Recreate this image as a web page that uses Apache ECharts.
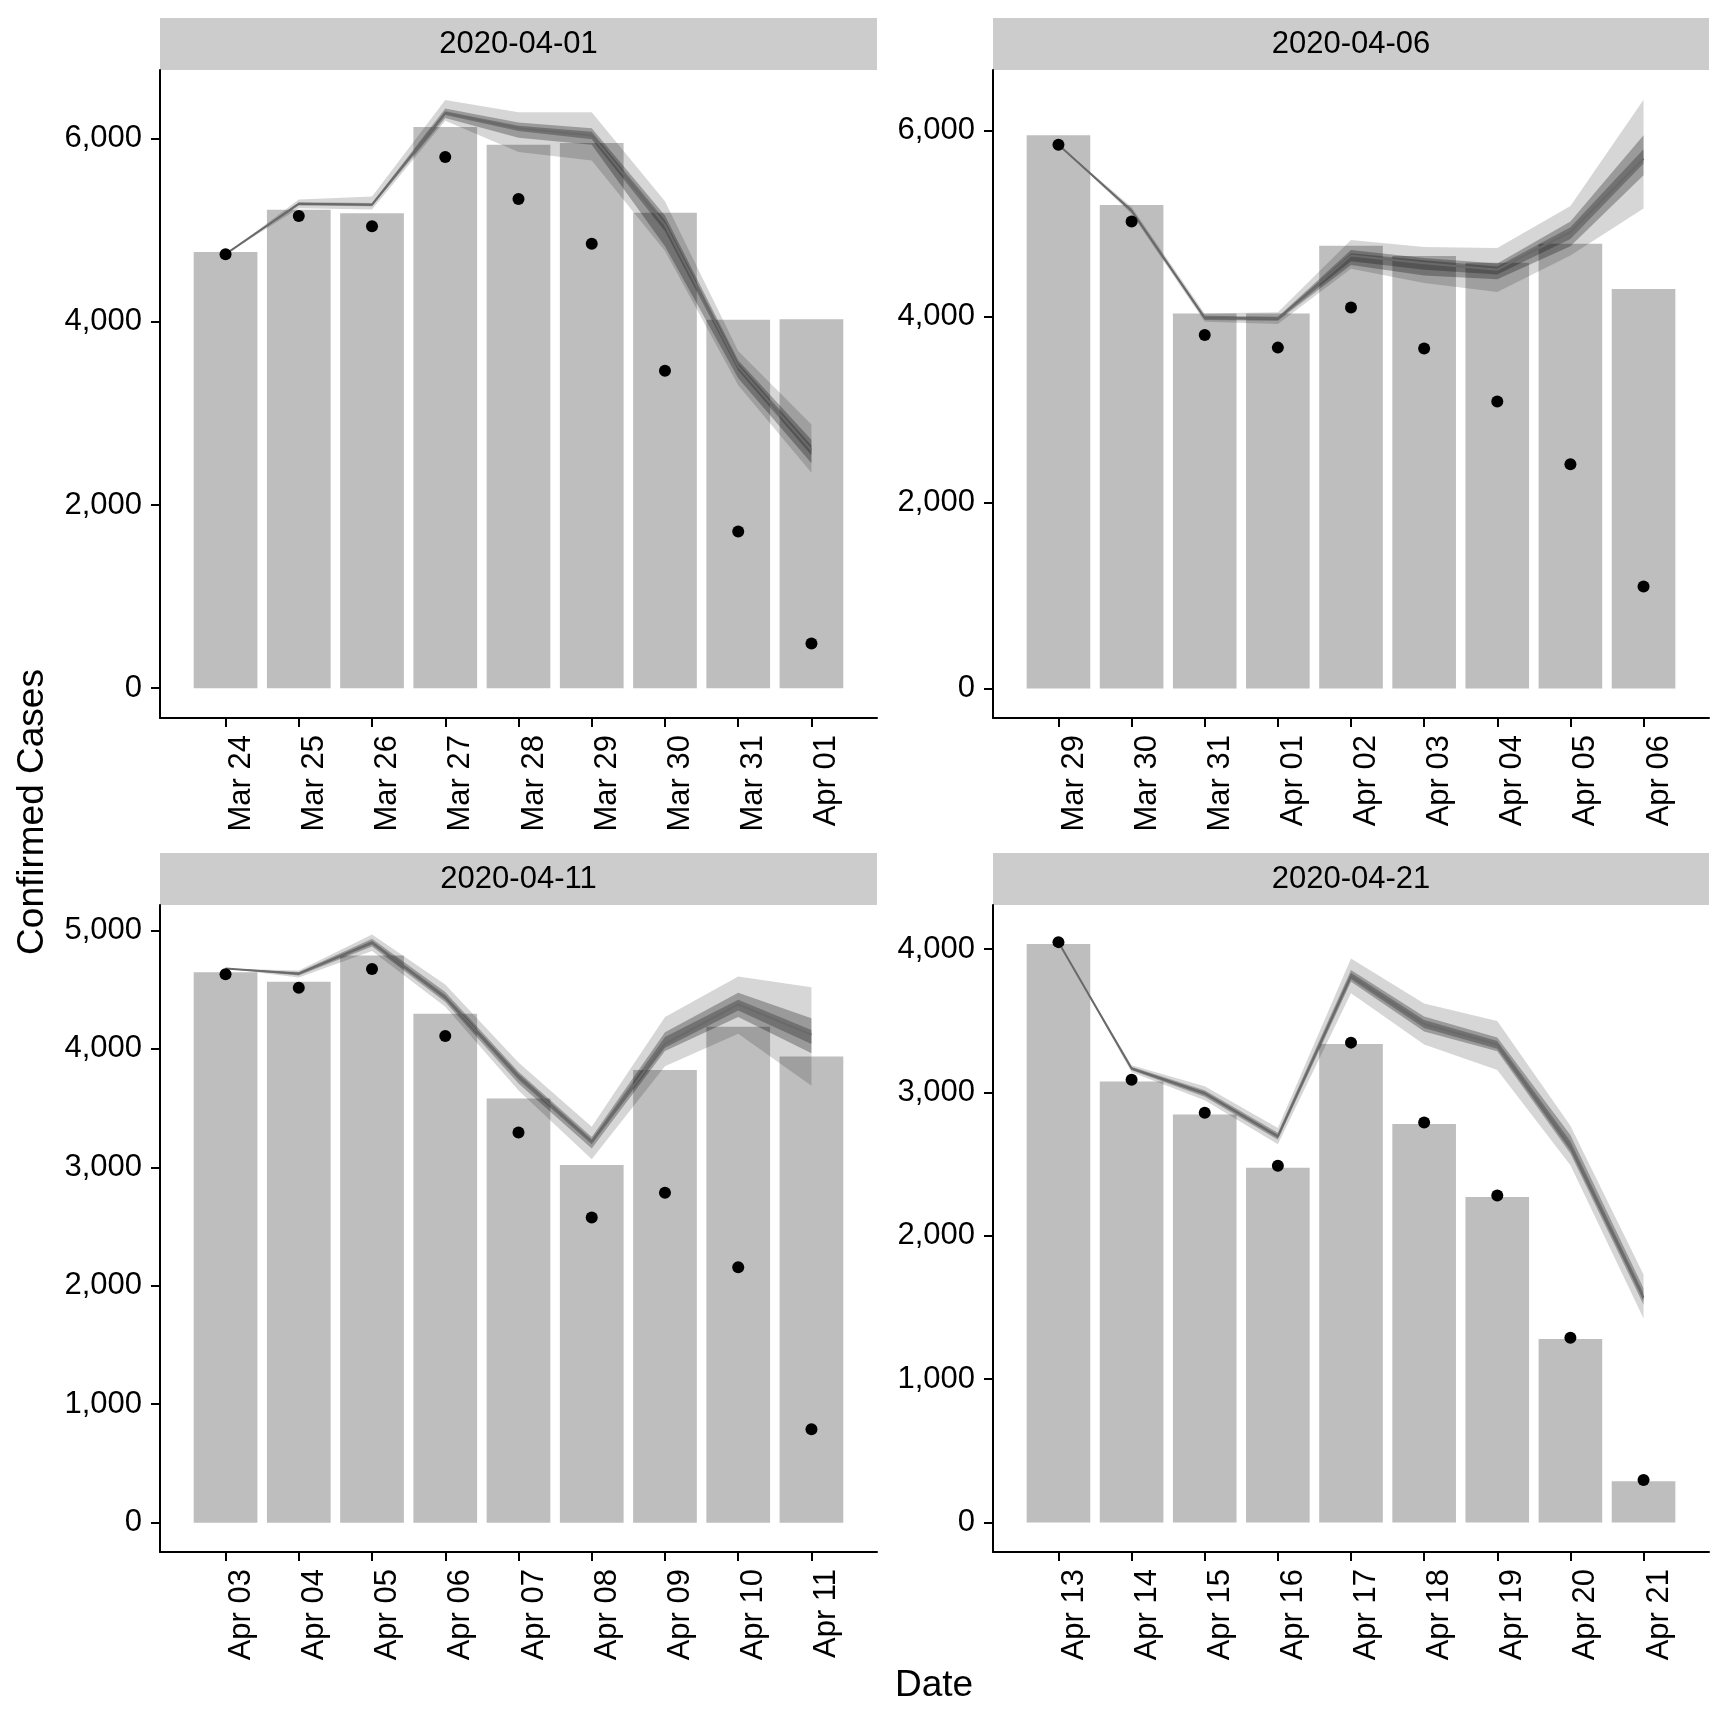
<!DOCTYPE html>
<html><head><meta charset="utf-8">
<script src="https://cdn.jsdelivr.net/npm/echarts@6/dist/echarts.min.js"></script>
<style>html,body{margin:0;padding:0;background:#fff}#c{width:1728px;height:1728px}</style>
</head><body><div id="c"></div>
<script>
// ---------------- data ----------------
const panelTitles = ['2020-04-01', '2020-04-06', '2020-04-11', '2020-04-21'];

const labels1 = ['Mar 24','Mar 25','Mar 26','Mar 27','Mar 28','Mar 29','Mar 30','Mar 31','Apr 01'];
const bars1   = [4764, 5223, 5187, 6129, 5934, 5954, 5192, 4023, 4028];
const points1 = [4739, 5156, 5043, 5800, 5341, 4852, 3466, 1710, 489];
const median1 = [4739, 5290, 5280, 6279, 6114, 6036, 5058, 3513, 2600];
const outerLo1 = [4739, 5240, 5228, 6195, 5856, 5763, 4775, 3307, 2354];
const outerHi1 = [4739, 5335, 5370, 6423, 6289, 6289, 5316, 3683, 2879];
const midLo1   = [4739, 5270, 5262, 6227, 6011, 5934, 4826, 3384, 2457];
const midHi1   = [4739, 5305, 5298, 6330, 6176, 6114, 5161, 3580, 2714];
const innLo1   = [4739, 5282, 5273, 6260, 6085, 5995, 4990, 3470, 2545];
const innHi1   = [4739, 5296, 5287, 6300, 6140, 6075, 5110, 3550, 2650];

const labels2 = ['Mar 29','Mar 30','Mar 31','Apr 01','Apr 02','Apr 03','Apr 04','Apr 05','Apr 06'];
const bars2   = [5954, 5202, 4034, 4034, 4765, 4653, 4580, 4785, 4298];
const points2 = [5852, 5024, 3805, 3668, 4100, 3658, 3089, 2413, 1097];
const median2 = [5852, 5141, 3988, 3978, 4659, 4577, 4506, 4912, 5700];
const outerLo2 = [5852, 5105, 3947, 3922, 4516, 4364, 4267, 4658, 5166];
const outerHi2 = [5852, 5181, 4034, 4049, 4826, 4750, 4740, 5192, 6335];
const midLo2   = [5852, 5125, 3965, 3958, 4557, 4445, 4404, 4760, 5522];
const midHi2   = [5852, 5160, 4010, 4000, 4719, 4633, 4572, 5024, 5954];
const innLo2   = [5852, 5133, 3978, 3968, 4598, 4506, 4455, 4836, 5649];
const innHi2   = [5852, 5150, 3998, 3990, 4684, 4608, 4542, 4963, 5801];

const labels3 = ['Apr 03','Apr 04','Apr 05','Apr 06','Apr 07','Apr 08','Apr 09','Apr 10','Apr 11'];
const bars3   = [4647, 4568, 4788, 4297, 3582, 3020, 3822, 4187, 3936];
const points3 = [4631, 4517, 4674, 4108, 3295, 2577, 2785, 2156, 789];
const median3 = [4678, 4635, 4898, 4434, 3767, 3217, 4042, 4375, 4120];
const outerLo3 = [4678, 4603, 4827, 4356, 3649, 3068, 3853, 4128, 3688];
const outerHi3 = [4678, 4662, 4965, 4544, 3885, 3342, 4269, 4611, 4521];
const midLo3   = [4678, 4620, 4865, 4395, 3708, 3158, 3983, 4270, 3963];
const midHi3   = [4678, 4650, 4930, 4480, 3806, 3256, 4140, 4474, 4258];
const innLo3   = [4678, 4628, 4882, 4415, 3740, 3195, 4010, 4324, 4042];
const innHi3   = [4678, 4642, 4912, 4455, 3790, 3235, 4101, 4415, 4159];

const labels4 = ['Apr 13','Apr 14','Apr 15','Apr 16','Apr 17','Apr 18','Apr 19','Apr 20','Apr 21'];
const bars4   = [4036, 3076, 2846, 2476, 3339, 2781, 2272, 1280, 288];
const points4 = [4049, 3089, 2859, 2489, 3348, 2791, 2282, 1290, 298];
const median4 = [4049, 3167, 2995, 2694, 3812, 3478, 3335, 2622, 1569];
const outerLo4 = [4049, 3141, 2946, 2639, 3692, 3335, 3157, 2493, 1423];
const outerHi4 = [4049, 3190, 3044, 2752, 3935, 3621, 3498, 2768, 1731];
const midLo4   = [4049, 3155, 2970, 2670, 3773, 3426, 3287, 2574, 1520];
const midHi4   = [4049, 3180, 3015, 2720, 3854, 3530, 3384, 2703, 1634];
const innLo4   = [4049, 3160, 2982, 2682, 3790, 3450, 3305, 2595, 1545];
const innHi4   = [4049, 3174, 3005, 2706, 3835, 3505, 3360, 2660, 1600];

const yTicks1 = [0, 2000, 4000, 6000];
const yTicks2 = [0, 2000, 4000, 6000];
const yTicks3 = [0, 1000, 2000, 3000, 4000, 5000];
const yTicks4 = [0, 1000, 2000, 3000, 4000];

const yRange1 = [-325, 6750];
const yRange2 = [-317, 6655];
const yRange3 = [-248, 5215];
const yRange4 = [-205, 4308];

const xAxisTitle = 'Date';
const yAxisTitle = 'Confirmed Cases';

// ---------------- build ----------------
const panels = [
  {labels: labels1, bars: bars1, points: points1, median: median1, bands: [[outerLo1, outerHi1], [midLo1, midHi1], [innLo1, innHi1]], ticks: yTicks1, range: yRange1},
  {labels: labels2, bars: bars2, points: points2, median: median2, bands: [[outerLo2, outerHi2], [midLo2, midHi2], [innLo2, innHi2]], ticks: yTicks2, range: yRange2},
  {labels: labels3, bars: bars3, points: points3, median: median3, bands: [[outerLo3, outerHi3], [midLo3, midHi3], [innLo3, innHi3]], ticks: yTicks3, range: yRange3},
  {labels: labels4, bars: bars4, points: points4, median: median4, bands: [[outerLo4, outerHi4], [midLo4, midHi4], [innLo4, innHi4]], ticks: yTicks4, range: yRange4}
];

const FONT = '"Liberation Sans", Helvetica, Arial, sans-serif';
const grids = [
  {left: 160, top: 70, width: 717, height: 648},
  {left: 993, top: 70, width: 716, height: 648},
  {left: 160, top: 905, width: 717, height: 647},
  {left: 993, top: 905, width: 716, height: 647}
];
const bandColors = ['rgba(0,0,0,0.16)', 'rgba(0,0,0,0.28)', 'rgba(0,0,0,0.26)'];

function bandRenderer(color) {
  return function (params, api) {
    if (params.dataIndexInside !== 0) return null;
    const n = params.dataInsideLength;
    const top = [], bot = [];
    for (let i = 0; i < n; i++) {
      const x = api.value(0, i);
      top.push(api.coord([x, api.value(2, i)]));
      bot.push(api.coord([x, api.value(1, i)]));
    }
    return {type: 'polygon', shape: {points: top.concat(bot.reverse())}, style: {fill: color}};
  };
}

const xAxes = [], yAxes = [], series = [], graphics = [];
panels.forEach((p, k) => {
  const xs = p.labels.map((_, i) => i + 1);
  xAxes.push({
    type: 'value', gridIndex: k, min: 0.105, max: p.labels.length + 0.895,
    axisLine: {show: true, onZero: false, lineStyle: {color: '#000', width: 2}},
    axisTick: {show: true, length: 9, customValues: xs, lineStyle: {color: '#000', width: 2}},
    axisLabel: {customValues: xs, rotate: 90, margin: 17, verticalAlign: 'top',
      formatter: v => p.labels[Math.round(v) - 1] || '',
      fontSize: 31, color: '#000', fontFamily: FONT},
    splitLine: {show: false}
  });
  yAxes.push({
    type: 'value', gridIndex: k, min: p.range[0], max: p.range[1],
    axisLine: {show: true, onZero: false, lineStyle: {color: '#000', width: 2}},
    axisTick: {show: true, length: 9, customValues: p.ticks, lineStyle: {color: '#000', width: 2}},
    axisLabel: {customValues: p.ticks, margin: 18, fontSize: 31, color: '#000', fontFamily: FONT,
      formatter: v => Number(v).toLocaleString('en-US')},
    splitLine: {show: false}
  });
  series.push({
    type: 'bar', xAxisIndex: k, yAxisIndex: k, barWidth: '87%', silent: true, z: 1,
    itemStyle: {color: '#bebebe'},
    data: xs.map((x, i) => [x, p.bars[i]])
  });
  p.bands.forEach((b, j) => {
    series.push({
      type: 'custom', xAxisIndex: k, yAxisIndex: k, silent: true, z: 2 + j,
      encode: {x: 0, y: [1, 2]},
      renderItem: bandRenderer(bandColors[j]),
      data: xs.map((x, i) => [x, b[0][i], b[1][i]])
    });
  });
  series.push({
    type: 'line', xAxisIndex: k, yAxisIndex: k, silent: true, z: 6, symbol: 'none',
    lineStyle: {color: '#6a6a6a', width: 2},
    data: xs.map((x, i) => [x, p.median[i]])
  });
  series.push({
    type: 'scatter', xAxisIndex: k, yAxisIndex: k, silent: true, z: 7, symbolSize: 12,
    itemStyle: {color: '#000', opacity: 1},
    data: xs.map((x, i) => [x, p.points[i]])
  });
  const g = grids[k];
  graphics.push({
    type: 'rect', shape: {x: g.left, y: g.top - 52, width: g.width, height: 52},
    style: {fill: '#cccccc'}
  });
  graphics.push({
    type: 'text', x: g.left + g.width / 2, y: g.top - 26,
    style: {text: panelTitles[k], fontSize: 31, fontFamily: FONT, fill: '#000', align: 'center', verticalAlign: 'middle'}
  });
});
graphics.push({
  type: 'text', x: 33, y: 812, rotation: Math.PI / 2,
  style: {text: yAxisTitle, fontSize: 37, fontFamily: FONT, fill: '#000', align: 'center', verticalAlign: 'middle'}
});
graphics.push({
  type: 'text', x: 934, y: 1686,
  style: {text: xAxisTitle, fontSize: 37, fontFamily: FONT, fill: '#000', align: 'center', verticalAlign: 'middle'}
});

const chart = echarts.init(document.getElementById('c'), null, {renderer: 'canvas'});
chart.setOption({
  animation: false,
  backgroundColor: '#fff',
  grid: grids,
  xAxis: xAxes,
  yAxis: yAxes,
  series: series,
  graphic: graphics
});
</script></body></html>
